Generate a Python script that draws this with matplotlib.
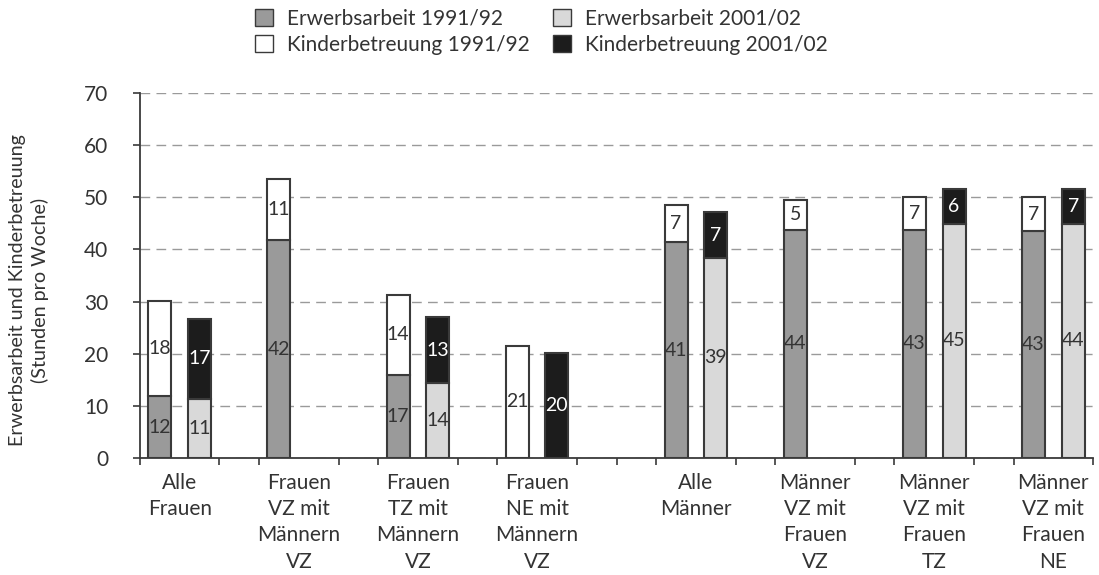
import matplotlib.pyplot as plt
from matplotlib.patches import Patch
import numpy as np

plt.rcParams['font.family'] = ['Lato', 'DejaVu Sans']

# data (bar heights) and the printed segment labels
categories = ["Alle\nFrauen", "Frauen\nVZ mit\nMännern\nVZ", "Frauen\nTZ mit\nMännern\nVZ",
              "Frauen\nNE mit\nMännern\nVZ", "Alle\nMänner", "Männer\nVZ mit\nFrauen\nVZ",
              "Männer\nVZ mit\nFrauen\nTZ", "Männer\nVZ mit\nFrauen\nNE"]
erwerb_91 = [11.8, 41.8, 16.0, 0.0, 41.4, 43.8, 43.8, 43.5]
kinder_91 = [18.3, 11.7, 15.2, 21.5, 7.1, 5.7, 6.2, 6.5]
erwerb_01 = [11.3, np.nan, 14.3, 0.0, 38.4, np.nan, 44.9, 44.9]
kinder_01 = [15.4, np.nan, 12.7, 20.1, 8.7, np.nan, 6.7, 6.7]

lab_e91 = [12, 42, 17, None, 41, 44, 43, 43]
lab_k91 = [18, 11, 14, 21, 7, 5, 7, 7]
lab_e01 = [11, None, 14, None, 39, None, 45, 44]
lab_k01 = [17, None, 13, 20, 7, None, 6, 7]

# slot of the 1991/92 bar in each group (24 slots on the axis)
slots = np.array([0, 3, 6, 9, 13, 16, 19, 22])
n_slots = 24
w = 0.58

c_e91, c_k91, c_e01, c_k01 = "#9a9a9a", "#ffffff", "#d9d9d9", "#1c1c1c"
edge = "#3a3a3a"
txt = "#333333"
fs = 15

fig = plt.figure(figsize=(10.99, 5.75), dpi=100)
ax = fig.add_axes([140/1099, 1-458/575, (1093-140)/1099, (458-93)/575])

x91 = slots + 0.5
x01 = slots + 1.5
e01 = np.array(erwerb_01)
k01 = np.array(kinder_01)
ok01 = ~np.isnan(e01)

kw = dict(width=w, edgecolor=edge, linewidth=1.5, zorder=3)
ax.bar(x91, erwerb_91, color=c_e91, **kw)
ax.bar(x91, kinder_91, bottom=erwerb_91, color=c_k91, **kw)
ax.bar(x01[ok01], e01[ok01], color=c_e01, **kw)
ax.bar(x01[ok01], k01[ok01], bottom=e01[ok01], color=c_k01, **kw)

fs_lab = 14
for i in range(len(categories)):
    if lab_e91[i] is not None:
        ax.text(x91[i], erwerb_91[i]/2, str(lab_e91[i]), ha='center', va='center',
                fontsize=fs_lab, color=txt, zorder=4)
    if lab_k91[i] is not None:
        ax.text(x91[i], erwerb_91[i] + kinder_91[i]/2, str(lab_k91[i]), ha='center',
                va='center', fontsize=fs_lab, color=txt, zorder=4)
    if lab_e01[i] is not None:
        ax.text(x01[i], e01[i]/2, str(lab_e01[i]), ha='center', va='center',
                fontsize=fs_lab, color=txt, zorder=4)
    if lab_k01[i] is not None:
        ax.text(x01[i], e01[i] + k01[i]/2, str(lab_k01[i]), ha='center', va='center',
                fontsize=fs_lab, color='white', zorder=4)

ax.set_xlim(0, n_slots)
ax.set_ylim(0, 70)
ax.set_yticks(np.arange(0, 71, 10))
ax.set_xticks(np.arange(0, n_slots + 1), minor=True)
ax.set_xticks(slots + 1)
ax.set_xticklabels(categories, fontsize=fs, color=txt, linespacing=1.38)
ax.tick_params(axis='x', which='major', length=0, pad=11)
ax.tick_params(axis='x', which='minor', length=5, color=edge, width=1.2, direction='out')
ax.tick_params(axis='y', length=5, color=edge, width=1.2, labelsize=fs, labelcolor=txt, pad=18)

ax.yaxis.grid(True, linestyle=(0, (7, 4.5)), color="#9a9a9a", linewidth=1, zorder=0)
ax.set_axisbelow(True)
for s in ['top', 'right']:
    ax.spines[s].set_visible(False)
for s in ['left', 'bottom']:
    ax.spines[s].set_color(edge)
    ax.spines[s].set_linewidth(1.3)

ax.set_ylabel("Erwerbsarbeit und Kinderbetreuung\n(Stunden pro Woche)", fontsize=14.2,
              color=txt, linespacing=1.3)
ax.yaxis.set_label_coords(-0.096, 0.46)

handles = [Patch(facecolor=c_e91, edgecolor=edge, label="Erwerbsarbeit 1991/92"),
           Patch(facecolor=c_k91, edgecolor=edge, label="Kinderbetreuung 1991/92"),
           Patch(facecolor=c_e01, edgecolor=edge, label="Erwerbsarbeit 2001/02"),
           Patch(facecolor=c_k01, edgecolor=edge, label="Kinderbetreuung 2001/02")]
fig.legend(handles=handles, ncol=2, loc='upper left', bbox_to_anchor=(236/1099, 1.018),
           frameon=False, fontsize=fs, handlelength=0.87, handleheight=0.87,
           handletextpad=0.67, columnspacing=1.1, labelspacing=0.3, labelcolor=txt)

fig.savefig("out.png", dpi=100)
